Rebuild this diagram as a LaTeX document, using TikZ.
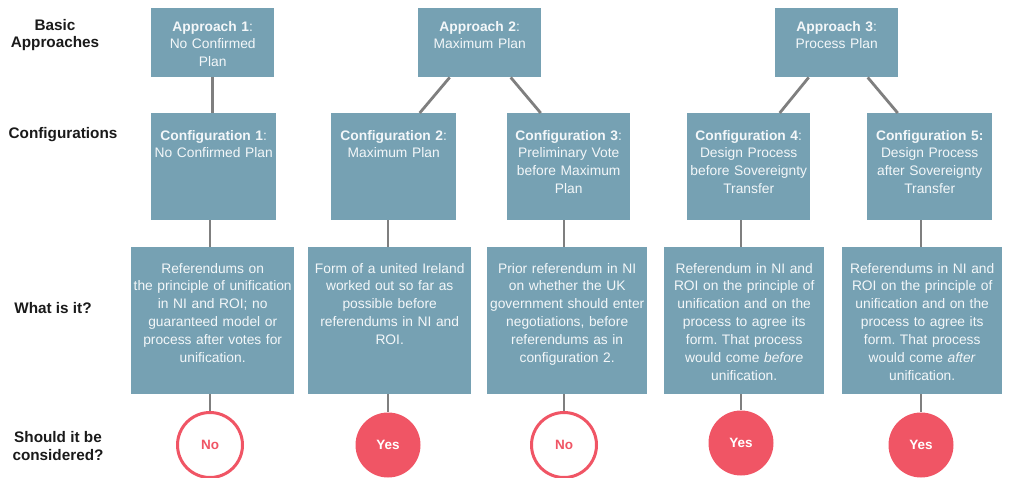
\documentclass[tikz,border=0pt]{standalone}
\usepackage{fontspec}
\setmainfont{Liberation Sans}
\definecolor{boxblue}{HTML}{76A1B3}
\definecolor{boxtext}{HTML}{F3F7F9}
\definecolor{linegray}{HTML}{7F7F7F}
\definecolor{yesred}{HTML}{F05565}
\definecolor{labelblack}{HTML}{1A1A1A}
\begin{document}
\frenchspacing
\begin{tikzpicture}[x=1pt,y=-1pt,
  box/.style={fill=boxblue, draw=none, inner sep=0pt, anchor=north west},
  txt/.style={text=boxtext, font=\fontsize{13.8}{17.9}\selectfont, text width=200pt, align=center, anchor=base, inner sep=0pt},
  rowlabel/.style={text=labelblack, font=\fontsize{15.3}{17.8}\selectfont\bfseries, align=center, inner sep=0pt},
  conn/.style={draw=linegray, line width=2.8pt},
  yes/.style={circle, fill=yesred, draw=none, minimum size=65pt, inner sep=0pt, text=white, font=\fontsize{13.5}{16}\selectfont\bfseries},
  no/.style={circle, fill=white, draw=yesred, line width=3pt, minimum size=65pt, inner sep=0pt, text=yesred, font=\fontsize{13.5}{16}\selectfont\bfseries}
]
\useasboundingbox (0,0) rectangle (1012,477);

% row labels
\node[rowlabel] (l1) at (55,35) {Basic\\Approaches};
\node[rowlabel] (l2) at (63,135) {Configurations};
\node[rowlabel] (l3) at (53,308) {What is it?};
\node[rowlabel] (l4) at (58,446) {Should it be\\considered?};

% approaches
\node[box, minimum width=123pt, minimum height=69pt] (a1) at (151,8) {};
\node[box, minimum width=123pt, minimum height=69pt] (a2) at (418,8) {};
\node[box, minimum width=123pt, minimum height=69pt] (a3) at (775,8) {};
\node[txt] (a1t) at ([yshift=-23pt]a1.north) {\textbf{Approach 1}:\\No Confirmed\\Plan};
\node[txt] (a2t) at ([yshift=-23pt]a2.north) {\textbf{Approach 2}:\\Maximum Plan};
\node[txt] (a3t) at ([yshift=-23pt]a3.north) {\textbf{Approach 3}:\\Process Plan};

% configurations
\node[box, minimum width=125pt, minimum height=107pt] (c1) at (151,113) {};
\node[box, minimum width=125pt, minimum height=107pt] (c2) at (331,113) {};
\node[box, minimum width=123pt, minimum height=107pt] (c3) at (507,113) {};
\node[box, minimum width=123pt, minimum height=107pt] (c4) at (687,113) {};
\node[box, minimum width=125pt, minimum height=107pt] (c5) at (867,113) {};
\node[txt] (c1t) at ([yshift=-27pt]c1.north) {\textbf{Configuration 1}:\\No Confirmed Plan};
\node[txt] (c2t) at ([yshift=-27pt]c2.north) {\textbf{Configuration 2}:\\Maximum Plan};
\node[txt] (c3t) at ([yshift=-27pt]c3.north) {\textbf{Configuration 3}:\\Preliminary Vote\\before Maximum\\Plan};
\node[txt] (c4t) at ([yshift=-27pt]c4.north) {\textbf{Configuration 4}:\\Design Process\\before Sovereignty\\Transfer};
\node[txt] (c5t) at ([yshift=-27pt]c5.north) {\textbf{Configuration 5:}\\Design Process\\after Sovereignty\\Transfer};

% what is it
\node[box, minimum width=163pt, minimum height=147pt] (w1) at (131,247) {};
\node[box, minimum width=163pt, minimum height=147pt] (w2) at (308,247) {};
\node[box, minimum width=160pt, minimum height=147pt] (w3) at (487,247) {};
\node[box, minimum width=160pt, minimum height=147pt] (w4) at (664,247) {};
\node[box, minimum width=160pt, minimum height=147pt] (w5) at (842,247) {};
\node[txt] (w1t) at ([yshift=-26pt]w1.north) {Referendums on\\the principle of unification\\in NI and ROI; no\\guaranteed model or\\process after votes for\\unification.};
\node[txt] (w2t) at ([yshift=-26pt]w2.north) {Form of a united Ireland\\worked out so far as\\possible before\\referendums in NI and\\ROI.};
\node[txt] (w3t) at ([yshift=-26pt]w3.north) {Prior referendum in NI\\on whether the UK\\government should enter\\negotiations, before\\referendums as in\\configuration 2.};
\node[txt] (w4t) at ([yshift=-26pt]w4.north) {Referendum in NI and\\ROI on the principle of\\unification and on the\\process to agree its\\form. That process\\would come \textit{before}\\unification.};
\node[txt] (w5t) at ([yshift=-26pt]w5.north) {Referendums in NI and\\ROI on the principle of\\unification and on the\\process to agree its\\form. That process\\would come \textit{after}\\unification.};

% should it be considered
\node[no]  (k1) at (210,445) {No};
\node[yes] (k2) at (388,445) {Yes};
\node[no]  (k3) at (564,445) {No};
\node[yes] (k4) at (741,443) {Yes};
\node[yes] (k5) at (921,445) {Yes};

% connectors approach -> configuration
\draw[conn] (a1.south) -- (a1.south |- c1.north);
\draw[conn] ([xshift=-30pt]a2.south) -- ([xshift=26pt]c2.north);
\draw[conn] ([xshift=31pt]a2.south) -- ([xshift=-28pt]c3.north);
\draw[conn] ([xshift=-28pt]a3.south) -- ([xshift=31pt]c4.north);
\draw[conn] ([xshift=31pt]a3.south) -- ([xshift=-32pt]c5.north);

% configuration -> what is it -> circles
\foreach \i in {1,...,5}{
  \draw[conn] (k\i |- c\i.south) -- (k\i |- w\i.north);
  \draw[conn] (k\i |- w\i.south) -- (k\i.north);
}
\end{tikzpicture}
\end{document}
